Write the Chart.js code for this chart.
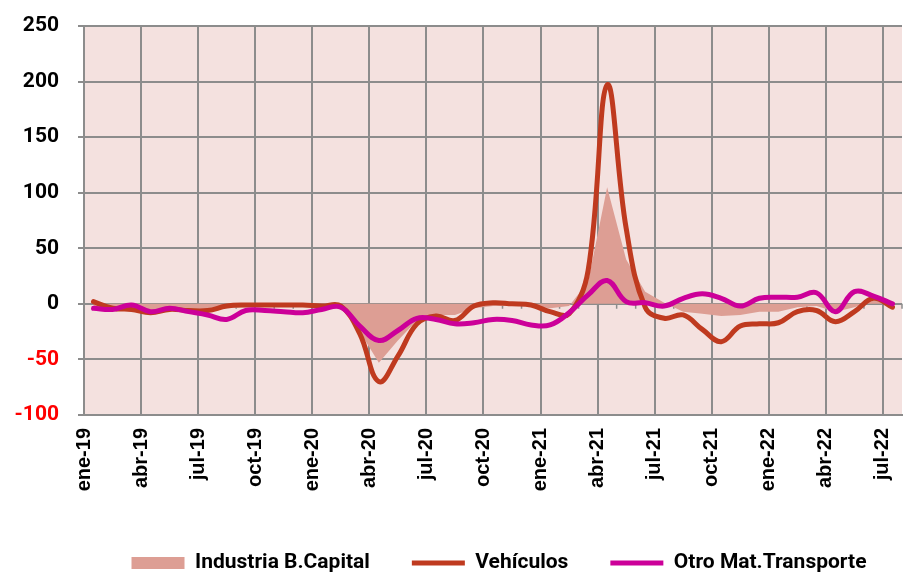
<!DOCTYPE html>
<html>
<head>
<meta charset="utf-8">
<script src="https://cdn.jsdelivr.net/npm/chart.js@4.4.0/dist/chart.umd.min.js"></script>
<style>
  body { margin: 0; background: #fff; }
</style>
</head>
<body>
<canvas id="myChart" width="909" height="574"></canvas>
<script>
const months = [
  'ene-19','feb-19','mar-19','abr-19','may-19','jun-19','jul-19','ago-19','sep-19','oct-19','nov-19','dic-19',
  'ene-20','feb-20','mar-20','abr-20','may-20','jun-20','jul-20','ago-20','sep-20','oct-20','nov-20','dic-20',
  'ene-21','feb-21','mar-21','abr-21','may-21','jun-21','jul-21','ago-21','sep-21','oct-21','nov-21','dic-21',
  'ene-22','feb-22','mar-22','abr-22','may-22','jun-22','jul-22'
];

const industria = [
  -3, -5, -5, -6, -5, -5, -5, -4, -3, -2, -2, -2,
  -2, -3, -25, -53, -33, -15, -10, -10, -4, -2, -2, -2,
  -4, -2, 20, 105, 40, 11, 1, -7, -9, -11, -10, -7,
  -7, -3, -2, -7, -3, 3, 0
];

const vehiculos = [
  2, -4, -5, -8, -5, -6, -6, -2, -1, -1, -1, -1,
  -2, -2, -27, -70, -47, -18, -11, -15, -2, 1, 0, -1,
  -7, -9, 30, 197, 68, -3, -13, -10, -23, -34, -20, -18,
  -17, -7, -6, -16, -7, 5, -3
];

const otroMat = [
  -4, -5, -1, -7, -4, -7, -10, -14, -6, -6, -7, -8,
  -5, -3, -20, -33, -24, -13, -14, -18, -17, -14, -15, -19,
  -19, -8, 8, 21, 2, 1, -2, 5, 9, 5, -2, 5,
  6, 6, 10, -7, 11, 7, 0
];

const yTicks = [-100, -50, 0, 50, 100, 150, 200, 250];

const grey = '#8c8c8c';
const toPoints = arr => arr.map((v, i) => ({ x: i + 0.5, y: v }));

// pink plot background + white canvas
const plotBackground = {
  id: 'plotBackground',
  beforeDraw(chart) {
    const { ctx, chartArea } = chart;
    ctx.save();
    ctx.fillStyle = '#fff';
    ctx.fillRect(0, 0, chart.width, chart.height);
    ctx.fillStyle = '#f4e1df';
    ctx.fillRect(chartArea.left, chartArea.top, chartArea.right - chartArea.left, chartArea.bottom - chartArea.top);
    ctx.restore();
  }
};

// small monthly tick marks on the zero line
const zeroTicks = {
  id: 'zeroTicks',
  beforeDatasetsDraw(chart) {
    const { ctx, scales } = chart;
    const y0 = scales.y.getPixelForValue(0);
    ctx.save();
    ctx.strokeStyle = grey;
    ctx.lineWidth = 1.5;
    ctx.beginPath();
    for (let i = 0; i <= months.length; i++) {
      const x = scales.x.getPixelForValue(i);
      ctx.moveTo(x, y0);
      ctx.lineTo(x, y0 + 5);
    }
    ctx.stroke();
    ctx.restore();
  }
};

// move legend under the plot centre
const legendShift = {
  id: 'legendShift',
  afterLayout(chart) {
    const lg = chart.legend;
    lg.left += 48; lg.right += 48;
    lg.top += 9.5; lg.bottom += 9.5;
  }
};

new Chart(document.getElementById('myChart'), {
  type: 'line',
  data: {
    datasets: [
      {
        label: 'Industria B.Capital',
        data: toPoints(industria),
        fill: 'origin',
        backgroundColor: '#dd9e94',
        borderColor: 'rgba(0,0,0,0)',
        borderWidth: 0,
        tension: 0,
        pointRadius: 0,
        pointStyle: 'rect',
        order: 3
      },
      {
        label: 'Vehículos',
        data: toPoints(vehiculos),
        borderColor: '#bf3a1f',
        backgroundColor: '#bf3a1f',
        borderWidth: 5,
        borderCapStyle: 'round',
        tension: 0.4,
        pointRadius: 0,
        pointStyle: 'line',
        fill: false,
        order: 2
      },
      {
        label: 'Otro Mat.Transporte',
        data: toPoints(otroMat),
        borderColor: '#cc0099',
        backgroundColor: '#cc0099',
        borderWidth: 5,
        borderCapStyle: 'round',
        tension: 0.4,
        pointRadius: 0,
        pointStyle: 'line',
        fill: false,
        order: 1
      }
    ]
  },
  options: {
    responsive: false,
    animation: false,
    layout: { autoPadding: false, padding: { left: 0, right: 7, top: 26, bottom: 0 } },
    plugins: {
      tooltip: { enabled: false },
      legend: {
        position: 'bottom',
        labels: {
          usePointStyle: true,
          pointStyleWidth: 53,
          boxHeight: 12,
          padding: 42,
          color: '#000',
          font: { family: 'Roboto', weight: 'bold', size: 21 },
          sort: (a, b) => a.datasetIndex - b.datasetIndex
        }
      }
    },
    scales: {
      x: {
        type: 'linear',
        min: 0,
        max: months.length,
        afterFit: s => {
          s.height = 86;
          s.paddingLeft = 0; s.paddingRight = 0;
        },
        grid: { color: grey, lineWidth: 2, drawTicks: false },
        border: { color: grey, width: 2 },
        ticks: {
          stepSize: 3,
          includeBounds: false,
          autoSkip: false,
          minRotation: 90,
          maxRotation: 90,
          padding: 13,
          color: '#000',
          font: { family: 'Liberation Sans', weight: 'bold', size: 20 },
          callback: v => months[v]
        }
      },
      y: {
        min: yTicks[0],
        max: yTicks[yTicks.length - 1],
        afterFit: s => {
          s.width = 84;
          s.paddingTop = 0; s.paddingBottom = 0;
        },
        afterBuildTicks: s => { s.ticks = yTicks.map(v => ({ value: v })); },
        grid: { color: grey, lineWidth: 2, tickLength: 6 },
        border: { color: grey, width: 2 },
        ticks: {
          padding: 19,
          color: c => c.tick.value < 0 ? '#ff0000' : '#000',
          font: { family: 'Roboto', weight: 'bold', size: 21 }
        }
      }
    }
  },
  plugins: [plotBackground, zeroTicks, legendShift]
});
</script>
</body>
</html>
